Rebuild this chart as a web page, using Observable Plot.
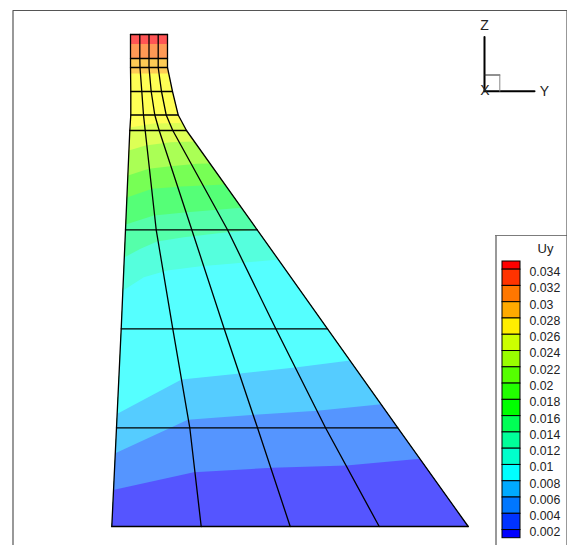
<!DOCTYPE html>
<html><head><meta charset="utf-8">
<script src="https://cdn.jsdelivr.net/npm/d3@7"></script>
<script src="https://cdn.jsdelivr.net/npm/@observablehq/plot@0.6"></script>
<style>
html,body{margin:0;padding:0;background:#fff;width:567px;height:545px;overflow:hidden}
#wrap{position:relative;width:567px;height:545px}
#legend{position:absolute;left:495px;top:235px}
svg{display:block}
</style></head>
<body><div id="wrap"><div id="main"></div><div id="legend"></div></div>
<script>
// Mesh node rows: [horizontal, vertical] of nodes across each level
const meshLevels = [
  [[130,34],[139.3,34],[148.5,34],[157.7,34],[167,34]],
  [[130,58],[139.3,58],[148.5,58],[157.7,58],[167,58]],
  [[130,67],[139.5,67],[148.5,67],[157.7,67],[167,67]],
  [[130.3,91],[141.3,91],[150.7,91],[161,91],[172,91]],
  [[130.3,114.5],[143,114.5],[154.3,114.5],[165.7,114.5],[177.7,114.5]],
  [[129.3,130],[144.7,130],[158.7,130],[172.3,130],[186,130]],
  [[125,229.3],[155.7,229.3],[191.3,229.3],[227,229.3],[256.7,229.3]],
  [[120.7,328.3],[172.3,328.3],[223.7,328.3],[275.3,328.3],[327,328.3]],
  [[116,427.3],[189.3,427.3],[257,427.3],[325,427.3],[397.3,427.3]],
  [[111.3,526],[200.7,526],[289.7,526],[378.7,526],[467.7,526]]
];
// Contour band colours, top to bottom, and the upper boundary of each band
const bandColors = ["#ff5555","#ff9955","#ffcc55","#ffff55","#ddff55","#aaff55","#77ff55","#55ff77","#55ffaa","#55ffdd","#55ffff","#55ccff","#5595ff","#5555ff"];
const bandTops = [
  [[130,34],[167,34]],
  [[130,43.5],[167,43.5]],
  [[130,58],[167,58]],
  [[130,73],[168.3,73]],
  [[129.7,127],[153,123],[182,122.5]],
  [[128.4,150],[145,145],[170,141.7],[194,141]],
  [[127.6,175],[148.3,168.3],[170,165.7],[196.7,163.3],[209.6,163]],
  [[126.4,197],[151.7,188.3],[181,186],[224.5,184]],
  [[125.2,224],[153.3,215],[186.7,211.7],[241,207.3]],
  [[123.7,257],[140,248.3],[156.7,241],[183.3,236.7],[226.7,231.7],[256.7,229.3]],
  [[122.6,290],[143.3,276.7],[166.7,270],[200,265.7],[233,263],[278,259]],
  [[117.3,413],[181,379],[239.3,373],[296.7,366.7],[349.7,360]],
  [[114.8,452.7],[170,427.3],[187.3,419.3],[254,414.3],[316.7,410.3],[380.8,403.7]],
  [[113.7,489.3],[193.3,471.7],[271.7,467.3],[346,465],[419.6,458.3]]
];
// Triad (orientation key)
const triadAxes = [[[484,36.5],[484,90.7]],[[484,90.7],[534,90.7]]];
const triadLabels = [{t:"Z",x:484,y:25},{t:"Y",x:544,y:91},{t:"X",x:484.5,y:90}];
const triadBoxBlack = [[484,74.5],[499.3,74.5]];
const triadBoxGray = [[499.3,74.5],[499.3,90.7]];
// Page frame
const frameLines = [[[12.5,545],[12.5,10],[566.5,10],[566.5,545]]];
// Legend
const legendTitle = "Uy";
const legendBreaks = [0.035,0.034,0.032,0.03,0.028,0.026,0.024,0.022,0.02,0.018,0.016,0.014,0.012,0.01,0.008,0.006,0.004,0.002,0.001];
const legendColors = ["#ff0000","#ff3300","#ff7700","#ffaa00","#ffee00","#ccff00","#99ff00","#55ff00","#22ff00","#00ff00","#00ff55","#00ff99","#00ffcc","#00ffff","#00aaff","#0077ff","#0033ff","#0000ff"];
const legendLabels = ["0.034","0.032","0.03","0.028","0.026","0.024","0.022","0.02","0.018","0.016","0.014","0.012","0.01","0.008","0.006","0.004","0.002"];

const FONT = "'Liberation Sans', Arial, Helvetica, sans-serif";
const px = d => d[0], py = d => d[1];

const leftEdge = meshLevels.map(r => r[0]);
const rightEdge = meshLevels.map(r => r[r.length-1]);
function bandPolygon(top){
  const a = top[0], b = top[top.length-1];
  return [...top,
    ...rightEdge.filter(n => n[1] > b[1]),
    ...leftEdge.filter(n => n[1] > a[1]).reverse()];
}
const bandMarks = bandTops.map((top,i) =>
  Plot.line(bandPolygon(top),{x:px,y:py,fill:bandColors[i],stroke:"none",curve:"linear"}));

const meshStyle = {x:px,y:py,stroke:"#000",strokeWidth:1.3,curve:"linear"};
const rowMarks = meshLevels.map(r => Plot.line(r,meshStyle));
const colMarks = d3.range(5).map(j => Plot.line(meshLevels.map(r => r[j]),meshStyle));

const main = Plot.plot({
  width:567,height:545,margin:0,
  x:{axis:null,domain:[0,567],range:[0,567]},
  y:{axis:null,domain:[0,545],range:[0,545]},
  style:{background:"transparent",fontFamily:FONT},
  marks:[
    ...frameLines.map(f => Plot.line(f,{x:px,y:py,stroke:"#555",strokeWidth:1.2})),
    ...bandMarks,
    ...rowMarks,
    ...colMarks,
    ...triadAxes.map(a => Plot.line(a,{x:px,y:py,stroke:"#000",strokeWidth:2})),
    Plot.line(triadBoxBlack,{x:px,y:py,stroke:"#222",strokeWidth:1}),
    Plot.line(triadBoxGray,{x:px,y:py,stroke:"#888",strokeWidth:1}),
    Plot.text(triadLabels,{x:"x",y:"y",text:"t",fontSize:14,fill:"#222",fontFamily:FONT})
  ]
});
document.getElementById("main").appendChild(main);

const legendRows = legendColors.map((c,i) => ({c,y1:legendBreaks[i],y2:legendBreaks[i+1]}));
const legendTicks = legendLabels.map((t,i) => ({t,v:legendBreaks[i+1]}));
const legend = Plot.plot({
  width:72,height:310,margin:0,
  x:{axis:null,domain:[0,72],range:[0,72]},
  y:{axis:null,domain:[0.035,0.001],range:[26,302.7]},
  style:{background:"#fff",fontFamily:FONT},
  marks:[
    Plot.ruleX([0.5],{stroke:"#555",strokeWidth:1.2}),
    Plot.ruleY([0.0382],{stroke:"#777",strokeWidth:1}),
    Plot.rect(legendRows,{x1:7,x2:25,y1:"y1",y2:"y2",fill:"c",stroke:"#000",strokeWidth:1}),
    Plot.text(legendTicks,{x:34,y:"v",text:"t",dy:2.5,textAnchor:"start",fontSize:12.3,fill:"#222",fontFamily:FONT}),
    Plot.text([legendTitle],{x:50,y:0.0366,text:d=>d,textAnchor:"middle",fontSize:13,fill:"#222",fontFamily:FONT}),
    Plot.ruleX([71.5],{stroke:"#555",strokeWidth:1.2})
  ]
});
document.getElementById("legend").appendChild(legend);
</script></body></html>
